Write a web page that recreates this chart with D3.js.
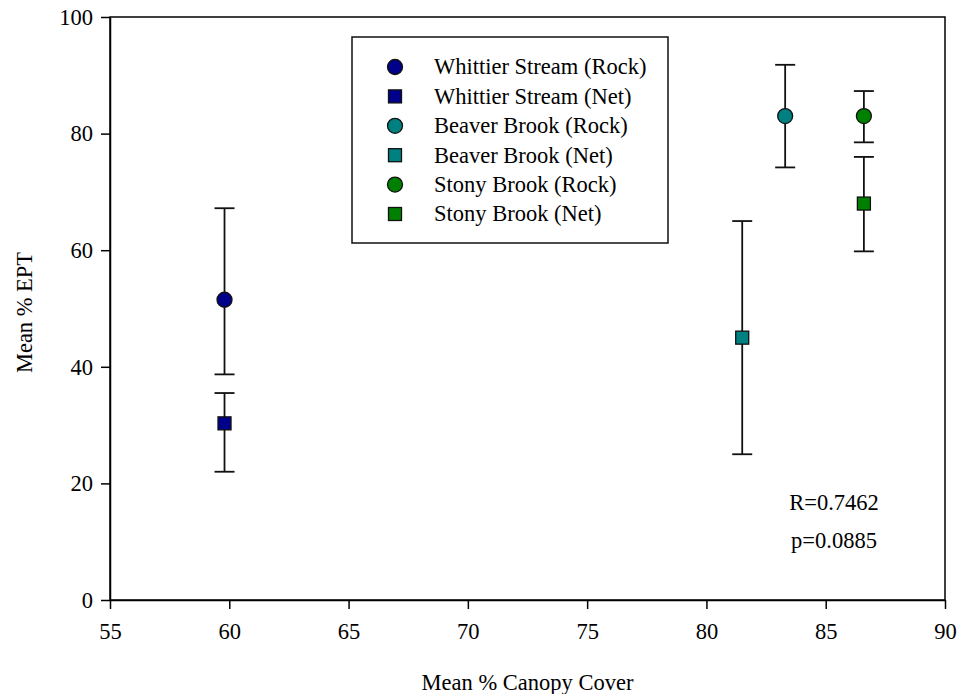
<!DOCTYPE html>
<html>
<head>
<meta charset="utf-8">
<script src="https://cdn.jsdelivr.net/npm/d3@7"></script>
<style>
  body { margin: 0; background: #fff; }
  text { font-family: "Liberation Serif", "Times New Roman", serif; fill: #000; }
</style>
</head>
<body>
<svg width="960" height="694"></svg>
<script>
// data
var labels = ["Whittier Stream (Rock)", "Whittier Stream (Net)", "Beaver Brook (Rock)",
              "Beaver Brook (Net)", "Stony Brook (Rock)", "Stony Brook (Net)"];
var shapes = ["circle", "square", "circle", "square", "circle", "square"];
var colors = ["#00008b", "#00008b", "#008080", "#008080", "#008000", "#008000"];
var canopy = [59.8, 59.8, 83.3, 81.5, 86.6, 86.6];
var ept    = [51.5, 30.3, 83.0, 45.0, 83.0, 68.0];
var errHi  = [67.2, 35.5, 91.8, 65.0, 87.3, 76.0];
var errLo  = [38.7, 22.0, 74.2, 25.0, 78.5, 59.8];
var xTicks = [55, 60, 65, 70, 75, 80, 85, 90];
var yTicks = [0, 20, 40, 60, 80, 100];

var fs = "22.5px";

var svg = d3.select("svg"),
    margin = {top: 17, right: 15, bottom: 94, left: 110},
    width = +svg.attr("width") - margin.left - margin.right,
    height = +svg.attr("height") - margin.top - margin.bottom;

var x = d3.scaleLinear().domain([55, 90]).range([0, width]),
    y = d3.scaleLinear().domain([0, 100]).range([height, 0]);

var g = svg.append("g")
    .attr("transform", "translate(" + margin.left + "," + margin.top + ")");

// frame
g.append("rect")
    .attr("width", width).attr("height", height)
    .attr("fill", "none").attr("stroke", "#000").attr("stroke-width", 1.5);

var xAxis = g.append("g")
    .attr("transform", "translate(0," + height + ")")
    .call(d3.axisBottom(x).tickValues(xTicks).tickSize(9).tickPadding(14).tickSizeOuter(0));
var yAxis = g.append("g")
    .call(d3.axisLeft(y).tickValues(yTicks).tickSize(9).tickPadding(8).tickSizeOuter(0));

[xAxis, yAxis].forEach(function(a) {
  a.select(".domain").attr("stroke-width", 1.5);
  a.selectAll(".tick line").attr("stroke-width", 1.5);
  a.selectAll("text").style("font-size", fs).style("font-family", "Liberation Serif, serif");
});

svg.append("text")
    .attr("x", margin.left + width / 2).attr("y", 690)
    .attr("text-anchor", "middle").style("font-size", fs)
    .text("Mean % Canopy Cover");
svg.append("text")
    .attr("transform", "translate(32," + (margin.top + height / 2 + 4) + ") rotate(-90)")
    .attr("text-anchor", "middle").style("font-size", fs)
    .text("Mean % EPT");

// error bars
var idx = d3.range(labels.length);
var eb = g.selectAll(".err").data(idx).enter().append("g").attr("class", "err")
    .attr("stroke", "#111").attr("stroke-width", 1.8);
eb.append("line")
    .attr("x1", function(i) { return x(canopy[i]); }).attr("x2", function(i) { return x(canopy[i]); })
    .attr("y1", function(i) { return y(errHi[i]); }).attr("y2", function(i) { return y(errLo[i]); });
eb.append("line")
    .attr("x1", function(i) { return x(canopy[i]) - 10; }).attr("x2", function(i) { return x(canopy[i]) + 10; })
    .attr("y1", function(i) { return y(errHi[i]); }).attr("y2", function(i) { return y(errHi[i]); });
eb.append("line")
    .attr("x1", function(i) { return x(canopy[i]) - 10; }).attr("x2", function(i) { return x(canopy[i]) + 10; })
    .attr("y1", function(i) { return y(errLo[i]); }).attr("y2", function(i) { return y(errLo[i]); });

function drawSymbol(sel, shape, color) {
  if (shape == "circle") {
    sel.append("circle").attr("r", 7.5);
  } else {
    sel.append("rect").attr("x", -6.5).attr("y", -6.5).attr("width", 13).attr("height", 13);
  }
  sel.selectAll("circle,rect").attr("fill", color).attr("stroke", "#111").attr("stroke-width", 1.3);
}

idx.forEach(function(i) {
  var p = g.append("g").attr("transform", "translate(" + x(canopy[i]) + "," + y(ept[i]) + ")");
  drawSymbol(p, shapes[i], colors[i]);
});

// legend
var legend = svg.append("g").attr("transform", "translate(352,37)");
legend.append("rect").attr("width", 316).attr("height", 206)
    .attr("fill", "#fff").attr("stroke", "#111").attr("stroke-width", 1.5);
idx.forEach(function(i) {
  var row = legend.append("g").attr("transform", "translate(43," + (30 + i * 29.4) + ")");
  drawSymbol(row, shapes[i], colors[i]);
  row.append("text").attr("x", 39).attr("dy", "0.33em").style("font-size", fs).text(labels[i]);
});

// stats
svg.append("text").attr("x", 834).attr("y", 510).attr("text-anchor", "middle")
    .style("font-size", fs).text("R=0.7462");
svg.append("text").attr("x", 834).attr("y", 548).attr("text-anchor", "middle")
    .style("font-size", fs).text("p=0.0885");
</script>
</body>
</html>
